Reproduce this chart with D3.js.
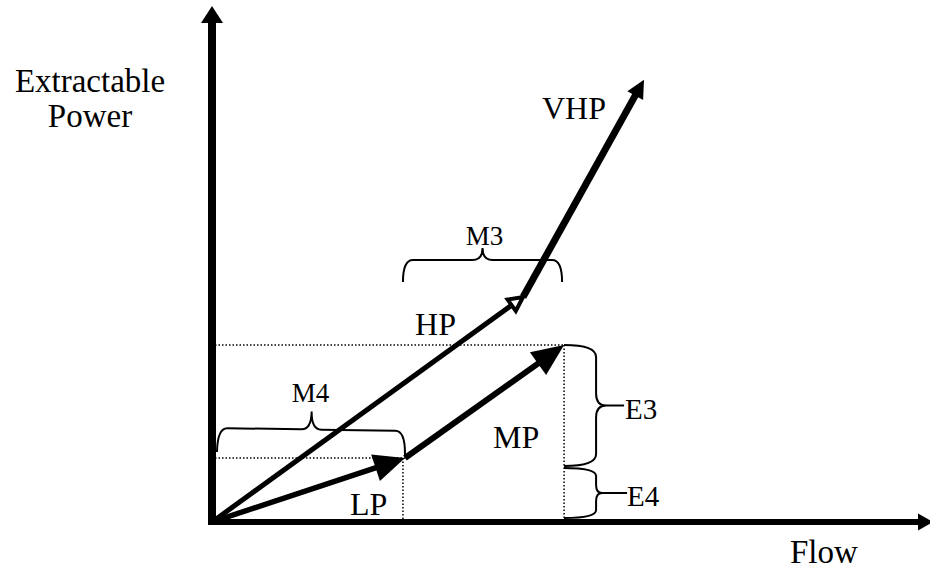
<!DOCTYPE html>
<html>
<head>
<meta charset="utf-8">
<script src="https://cdn.jsdelivr.net/npm/d3@7"></script>
<style>
  body { margin: 0; background: #fff; }
</style>
</head>
<body>
<div id="chart"></div>
<script>
// vectors: name, start and end in (flow, power), domain 0..100
var vecNames  = ["LP", "MP", "HP", "VHP"];
var vecFlow0  = [0, 26.8, 0, 43.2];
var vecPower0 = [0, 12.4, 0, 43.6];
var vecFlow1  = [26.8, 48.9, 43.2, 60.0];
var vecPower1 = [12.4, 34.3, 43.6, 85.7];

var axisLabelsY = ["Extractable", "Power"];
var axisLabelX = "Flow";

var width = 930,
	height = 573,
	serif = "'Liberation Serif', 'Times New Roman', Times, 'DejaVu Serif', serif";

var svg = d3.select("#chart").append("svg")
	.attr("width", width)
	.attr("height", height)
	.attr("font-family", serif);

var xScale = d3.scaleLinear().domain([0, 100]).range([212, 932]);
var yScale = d3.scaleLinear().domain([0, 100]).range([522, 6]);

// filled triangle with tip at (x,y) pointing along angle a
function head(x, y, a, len, hw, fill, sw) {
	var bx = x - len * Math.cos(a), by = y - len * Math.sin(a);
	var px = -Math.sin(a) * hw, py = Math.cos(a) * hw;
	svg.append("path")
	.attr("d", "M" + x + "," + y + "L" + (bx + px) + "," + (by + py) + "L" + (bx - px) + "," + (by - py) + "Z")
	.attr("fill", fill)
	.attr("stroke", "#000")
	.attr("stroke-width", sw || 0)
	.attr("stroke-linejoin", "miter");
}

// curly brace in local coords, then rotated; bulges to the left of the travel direction
function brace(x1, y1, x2, y2, h1, h, r, lead) {
	var L = Math.hypot(x2 - x1, y2 - y1),
	ang = Math.atan2(y2 - y1, x2 - x1) * 180 / Math.PI,
	m = L / 2;
	var d = "M0,0 Q0," + (-h1) + " " + r + "," + (-h1) +
		" L" + (m - r) + "," + (-h1) +
		" Q" + m + "," + (-h1) + " " + m + "," + (-h) +
		" Q" + m + "," + (-h1) + " " + (m + r) + "," + (-h1) +
		" L" + (L - r) + "," + (-h1) +
		" Q" + L + "," + (-h1) + " " + L + ",0";
	if (lead) d += " M" + m + "," + (-h) + " L" + m + "," + (-h - lead);
	svg.append("path")
	.attr("d", d)
	.attr("fill", "none")
	.attr("stroke", "#000")
	.attr("stroke-width", 2)
	.attr("transform", "translate(" + x1 + "," + y1 + ") rotate(" + ang + ")");
}

//Dotted guide lines
function dotted(x1, y1, x2, y2) {
	svg.append("line")
	.attr("x1", x1).attr("y1", y1).attr("x2", x2).attr("y2", y2)
	.attr("stroke", "#000")
	.attr("stroke-width", 1.5)
	.attr("stroke-dasharray", "1.5,2");
}
dotted(xScale(0) - 4, yScale(vecPower1[0]), xScale(vecFlow1[0]), yScale(vecPower1[0]));
dotted(xScale(vecFlow1[0]) - 2, yScale(vecPower1[0]), xScale(vecFlow1[0]) - 2, yScale(0));
dotted(xScale(0) - 4, yScale(vecPower1[1]), xScale(vecFlow1[1]), yScale(vecPower1[1]));
dotted(xScale(vecFlow1[1]), yScale(vecPower1[1]), xScale(vecFlow1[1]), yScale(0));

//Axes
svg.append("line")
.attr("x1", xScale(0)).attr("y1", yScale(0) + 3)
.attr("x2", xScale(0)).attr("y2", 22)
.attr("stroke", "#000").attr("stroke-width", 8);
head(xScale(0), 6, -Math.PI / 2, 17, 11, "#000");

svg.append("line")
.attr("x1", xScale(0) - 4).attr("y1", yScale(0))
.attr("x2", 919).attr("y2", yScale(0))
.attr("stroke", "#000").attr("stroke-width", 6);
head(933, yScale(0), 0, 15, 8.5, "#000");

//Vectors
var style = {
	LP:  { sw: 5.5, len: 31, hw: 14, fill: "#000", hs: 0 },
	MP:  { sw: 6,   len: 32, hw: 14, fill: "#000", hs: 0 },
	HP:  { sw: 5,   len: 14, hw: 7,  fill: "#fff", hs: 4 },
	VHP: { sw: 7,   len: 18, hw: 9,  fill: "#000", hs: 0 }
};

vecNames.forEach(function(n, i) {
	var s = style[n];
	var x0 = xScale(vecFlow0[i]), y0 = yScale(vecPower0[i]),
	x1 = xScale(vecFlow1[i]), y1 = yScale(vecPower1[i]);
	var a = Math.atan2(y1 - y0, x1 - x0);
	var cut = s.len * 0.8;
	svg.append("line")
	.attr("x1", x0).attr("y1", y0)
	.attr("x2", x1 - cut * Math.cos(a)).attr("y2", y1 - cut * Math.sin(a))
	.attr("stroke", "#000")
	.attr("stroke-width", s.sw);
	head(x1, y1, a, s.len, s.hw, s.fill, s.hs);
});

//Vector labels
var labelPos = { LP: [-55, 57], MP: [-71, 103], HP: [-108, 38], VHP: [-102, 39] };
vecNames.forEach(function(n, i) {
	svg.append("text")
	.attr("x", xScale(vecFlow1[i]) + labelPos[n][0])
	.attr("y", yScale(vecPower1[i]) + labelPos[n][1])
	.attr("font-size", 32)
	.text(n);
});

//Braces
var lpX = xScale(vecFlow1[0]), lpY = yScale(vecPower1[0]),
	mpX = xScale(vecFlow1[1]), mpY = yScale(vecPower1[1]),
	hpY = yScale(vecPower1[2]);

brace(xScale(0) + 5, lpY - 6, lpX, lpY - 3, 24, 42, 10);
brace(lpX - 2, hpY - 15, mpX - 2, hpY - 15, 22, 34, 10);
brace(mpX, mpY, mpX, lpY + 8, 32, 42, 12, 18);
brace(mpX, lpY + 10, mpX, yScale(0) - 4, 32, 38, 8, 25);

var smallLabels = [
	{ t: "M4", x: (lpX + xScale(0)) / 2 + 2, y: lpY - 56, anchor: "middle", fs: 27 },
	{ t: "M3", x: (lpX + mpX) / 2, y: hpY - 52, anchor: "middle", fs: 27 },
	{ t: "E3", x: mpX + 61, y: (mpY + lpY) / 2 + 17, anchor: "start", fs: 29 },
	{ t: "E4", x: mpX + 63, y: (lpY + yScale(0)) / 2 + 16, anchor: "start", fs: 29 }
];
smallLabels.forEach(function(d) {
	svg.append("text")
	.attr("x", d.x).attr("y", d.y)
	.attr("text-anchor", d.anchor)
	.attr("font-size", d.fs)
	.text(d.t);
});

//Axis titles
svg.selectAll(".ytitle")
.data(axisLabelsY)
.enter()
.append("text")
.attr("class", "ytitle")
.attr("x", 90)
.attr("y", function(d, i) { return 92 + i * 35; })
.attr("text-anchor", "middle")
.attr("font-size", 33)
.text(function(d) { return d; });

svg.append("text")
.attr("x", 790)
.attr("y", 563)
.attr("font-size", 33)
.text(axisLabelX);
</script>
</body>
</html>
